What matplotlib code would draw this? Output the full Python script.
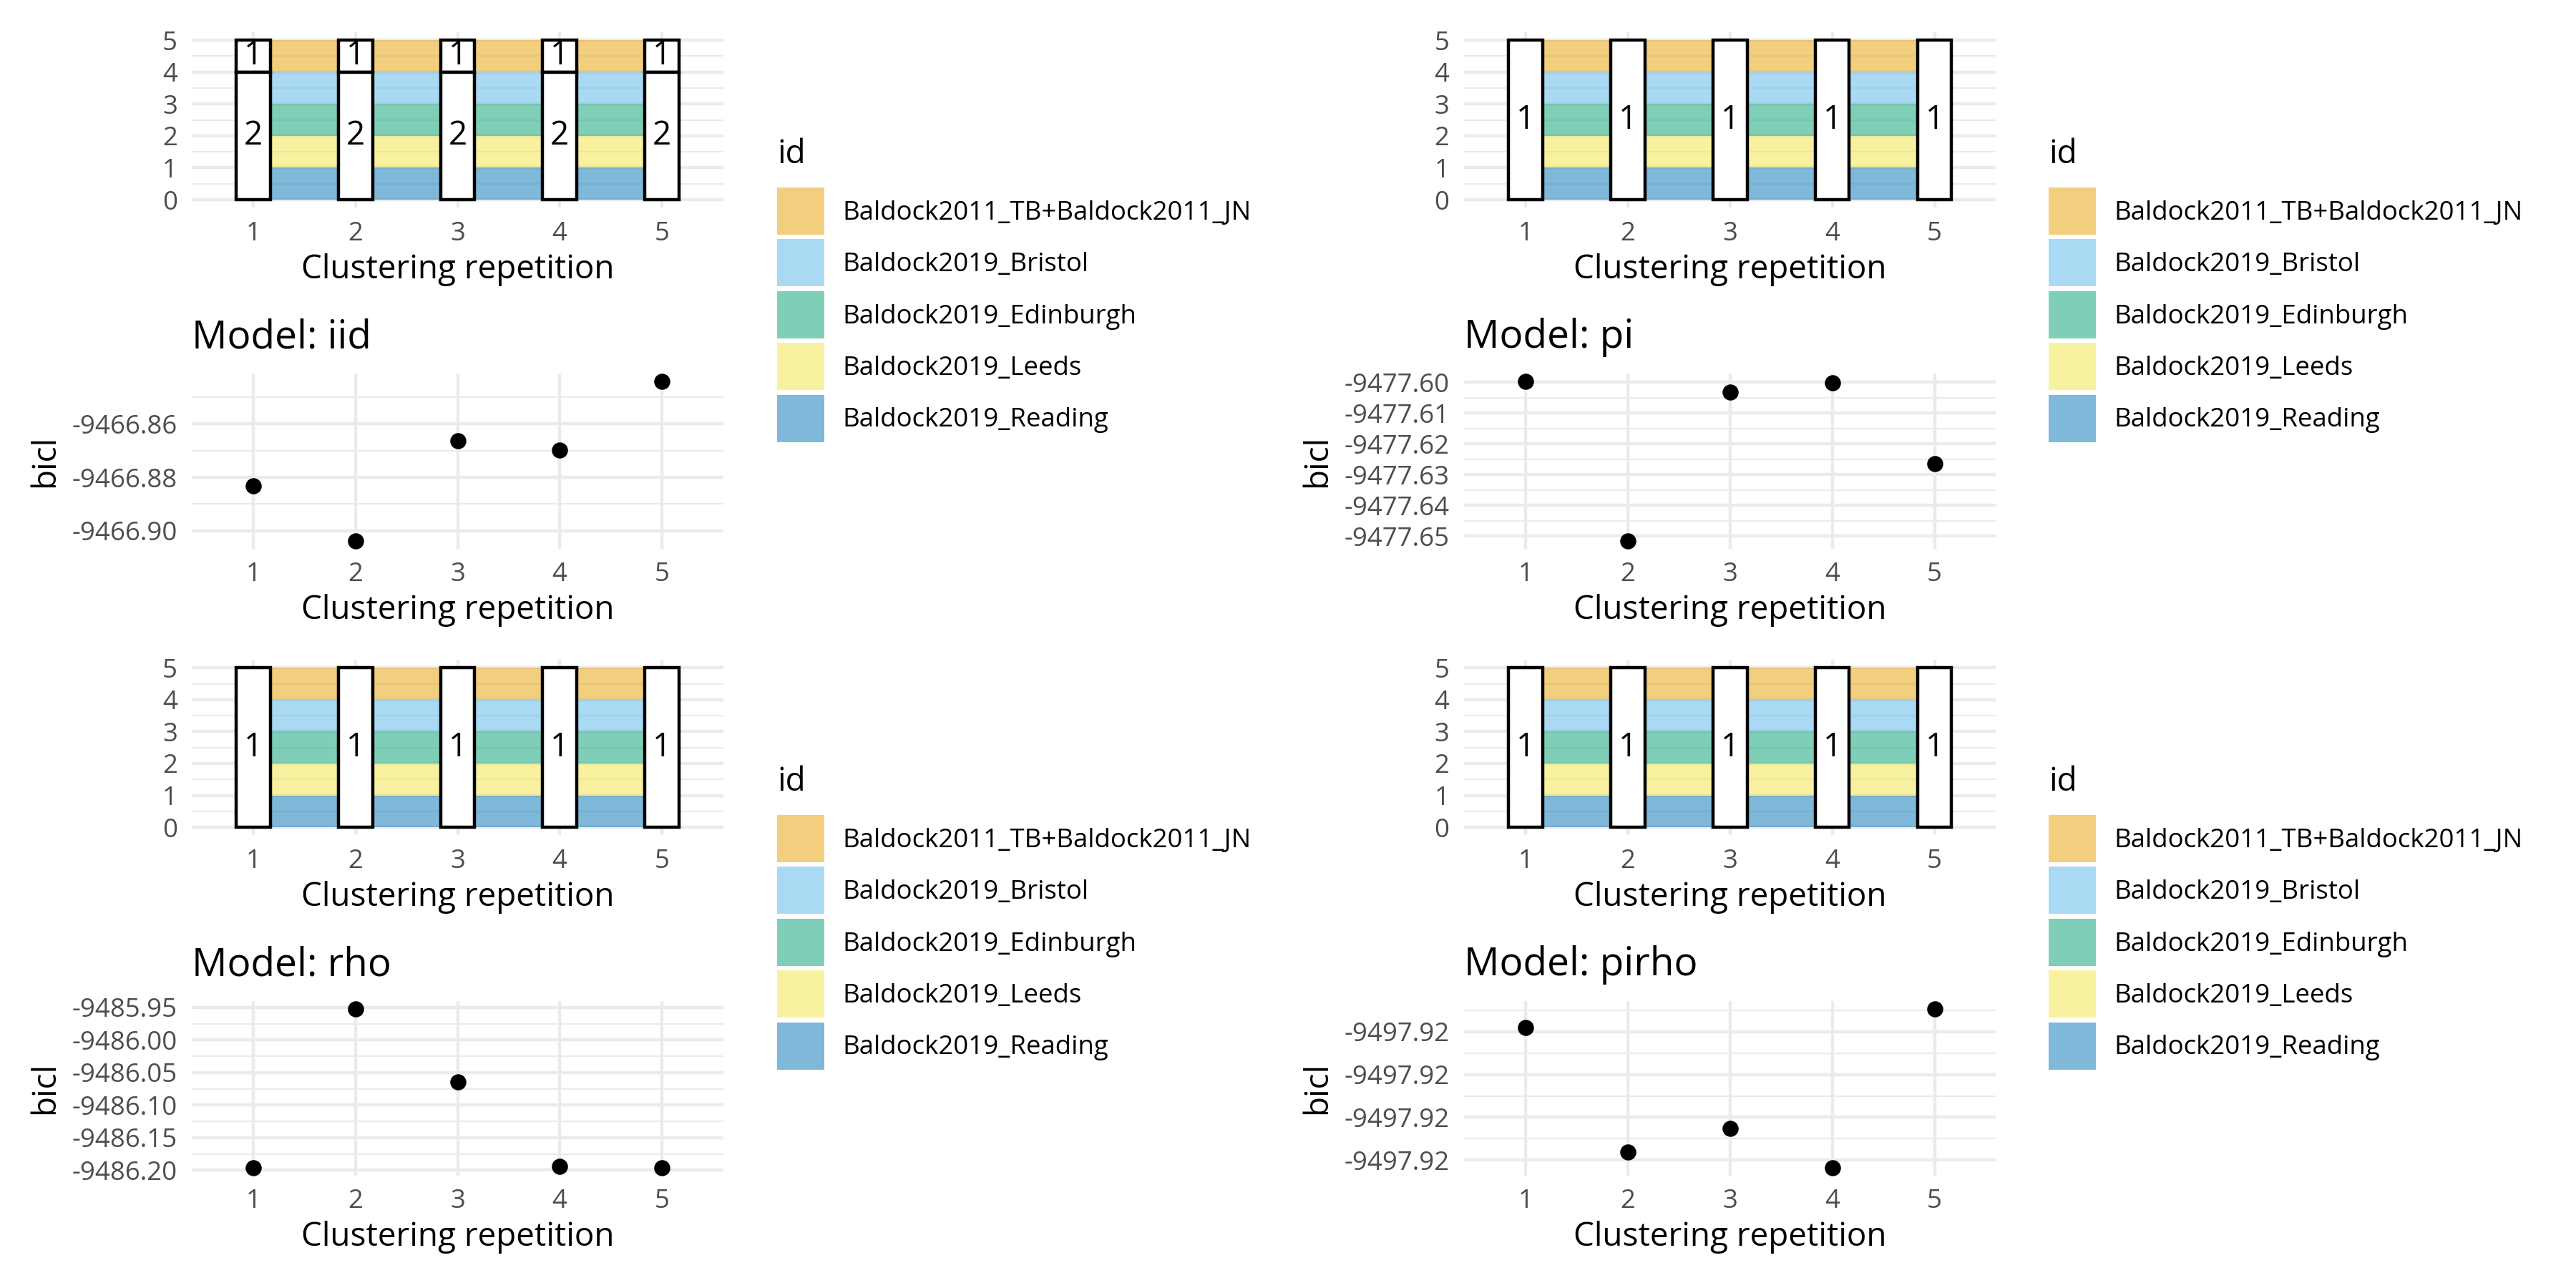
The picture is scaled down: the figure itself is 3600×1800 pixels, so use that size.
import numpy as np
import matplotlib
matplotlib.use("Agg")
import matplotlib.pyplot as plt
from matplotlib.patches import Patch, Rectangle
from matplotlib.legend_handler import HandlerPatch
from matplotlib.ticker import FixedLocator, FormatStrFormatter

plt.rcParams['font.family'] = ['Open Sans', 'DejaVu Sans']

ids = ['Baldock2011_TB+Baldock2011_JN', 'Baldock2019_Bristol', 'Baldock2019_Edinburgh',
       'Baldock2019_Leeds', 'Baldock2019_Reading']
id_colors = ['#E69F00', '#56B4E9', '#009E73', '#F0E442', '#0072B2']   # okabe-ito, drawn at alpha .5
id_counts = [1, 1, 1, 1, 1]
repetitions = [1, 2, 3, 4, 5]
models = ['iid', 'pi', 'rho', 'pirho']

# cluster of each id, same in every repetition
clusters_iid = [1, 2, 2, 2, 2]
clusters_pi = [1, 1, 1, 1, 1]
clusters_rho = [1, 1, 1, 1, 1]
clusters_pirho = [1, 1, 1, 1, 1]

bicl_iid = [-9466.8831, -9466.9037, -9466.8662, -9466.8698, -9466.8440]
bicl_pi = [-9477.5996, -9477.6515, -9477.6032, -9477.6001, -9477.6265]
bicl_rho = [-9486.1962, -9485.9519, -9486.0649, -9486.1937, -9486.1962]
bicl_pirho = [-9497.919995, -9497.920141, -9497.920113, -9497.920159, -9497.919973]

yticks_iid = [-9466.90, -9466.88, -9466.86]
yticks_pi = [-9477.65, -9477.64, -9477.63, -9477.62, -9477.61, -9477.60]
yticks_rho = [-9486.20, -9486.15, -9486.10, -9486.05, -9486.00, -9485.95]
yticks_pirho = [-9497.92015, -9497.92010, -9497.92005, -9497.92000]

clusters = {'iid': clusters_iid, 'pi': clusters_pi, 'rho': clusters_rho, 'pirho': clusters_pirho}
bicl = {'iid': bicl_iid, 'pi': bicl_pi, 'rho': bicl_rho, 'pirho': bicl_pirho}
yticks = {'iid': yticks_iid, 'pi': yticks_pi, 'rho': yticks_rho, 'pirho': yticks_pirho}

W, H = 3600, 1800
GRID = '#EBEBEB'
TICKCOL = '#4D4D4D'

# panel boxes in pixels: x0, x1 for each column, y0, y1 for each row
cols = [(268.4, 1010.6), (2046.0, 2789.4)]
bar_rows = [(44.9, 290.2), (922.2, 1167.2)]
dot_rows = [(521.5, 766.7), (1398.6, 1643.0)]
legend_x = [1086, 2863]
legend_top = [262, 1139]


class SquareKey(HandlerPatch):
    # ggplot-like key: a square as wide as the handle box, centred on the row
    def create_artists(self, legend, orig_handle, xdescent, ydescent, width, height, fontsize, trans):
        cy = height / 2 - ydescent
        r = Rectangle((-xdescent, cy - width / 2), width, width,
                      facecolor=orig_handle.get_facecolor(), edgecolor='none', transform=trans)
        return [r]


def rect(x0, x1, y0, y1):
    return [x0 / W, 1 - y1 / H, (x1 - x0) / W, (y1 - y0) / H]


def style(ax, ymajor, yminor):
    ax.set_axisbelow(True)
    for s in ax.spines.values():
        s.set_visible(False)
    ax.set_xlim(0.4, 5.6)
    ax.set_xticks(repetitions)
    ax.yaxis.set_major_locator(FixedLocator(ymajor))
    ax.yaxis.set_minor_locator(FixedLocator(yminor))
    ax.grid(True, which='major', axis='both', color=GRID, lw=1.07)
    ax.grid(True, which='minor', axis='y', color=GRID, lw=0.53)
    ax.tick_params(which='both', length=0, labelsize=8.8, labelcolor=TICKCOL)
    ax.tick_params(axis='x', pad=4.4)
    ax.tick_params(axis='y', pad=4.9)
    ax.set_xlabel('Clustering repetition', fontsize=11, labelpad=2.2)


def alluvial(ax, cl):
    n = len(ids)
    total = sum(id_counts)
    bottoms = [sum(id_counts[j] for j in range(i + 1, n)) for i in range(n)]
    for i in range(n):
        for a, b in zip(repetitions[:-1], repetitions[1:]):
            ax.bar((a + b) / 2, id_counts[i], bottom=bottoms[i], width=(b - a) - 1 / 3,
                   color=id_colors[i], alpha=0.5, linewidth=0, zorder=2)
    levels = sorted(set(cl))
    for r in repetitions:
        top = total
        for c in levels:
            size = sum(id_counts[j] for j in range(n) if cl[j] == c)
            ax.bar(r, size, bottom=top - size, width=1 / 3, facecolor='white',
                   edgecolor='black', linewidth=1.07, joinstyle='miter', zorder=3)
            ax.text(r, top - size / 2, str(c), ha='center', va='center', fontsize=11, zorder=4)
            top -= size
    ax.set_ylim(-0.25 * total / 5, total * 1.05)
    style(ax, [0, 1, 2, 3, 4, 5], [0.5, 1.5, 2.5, 3.5, 4.5])
    ax.yaxis.set_major_formatter(FormatStrFormatter('%d'))


def dots(ax, m):
    vals = bicl[m]
    ax.plot(repetitions, vals, 'o', color='black', markersize=4.4, zorder=3)
    lo, hi = min(vals), max(vals)
    pad = (hi - lo) * 0.05
    ax.set_ylim(lo - pad, hi + pad)
    t = yticks[m]
    step = t[1] - t[0]
    minor = [v + step / 2 for v in t] + [t[0] - step / 2]
    style(ax, t, minor)
    ax.yaxis.set_major_formatter(FormatStrFormatter('%.2f'))
    ax.set_ylabel('bicl', fontsize=11, labelpad=3.5)
    ax.set_title('Model: ' + m, loc='left', fontsize=13.2, pad=8.5)


fig = plt.figure(figsize=(12, 6), dpi=300)
fig.patch.set_facecolor('white')

handles = [Patch(facecolor=c, alpha=0.5, edgecolor='none') for c in id_colors]

for k, m in enumerate(models):
    row, col = divmod(k, 2)
    x0, x1 = cols[col]
    ax_bar = fig.add_axes(rect(x0, x1, *bar_rows[row]))
    alluvial(ax_bar, clusters[m])
    ax_dot = fig.add_axes(rect(x0, x1, *dot_rows[row]))
    dots(ax_dot, m)

    lx, ly = legend_x[col], legend_top[row]
    fig.text(lx / W, 1 - (ly - 46) / H, 'id', fontsize=11, ha='left', va='center')
    fig.legend(handles, ids, loc='upper left', bbox_to_anchor=(lx / W, 1 - (ly + 7) / H),
               frameon=False, fontsize=8.8, handlelength=1.8, handleheight=1.8,
               labelspacing=0.56, handletextpad=0.7, borderpad=0, borderaxespad=0,
               handler_map={Patch: SquareKey()})

fig.savefig('out.png', dpi=300, facecolor='white')
